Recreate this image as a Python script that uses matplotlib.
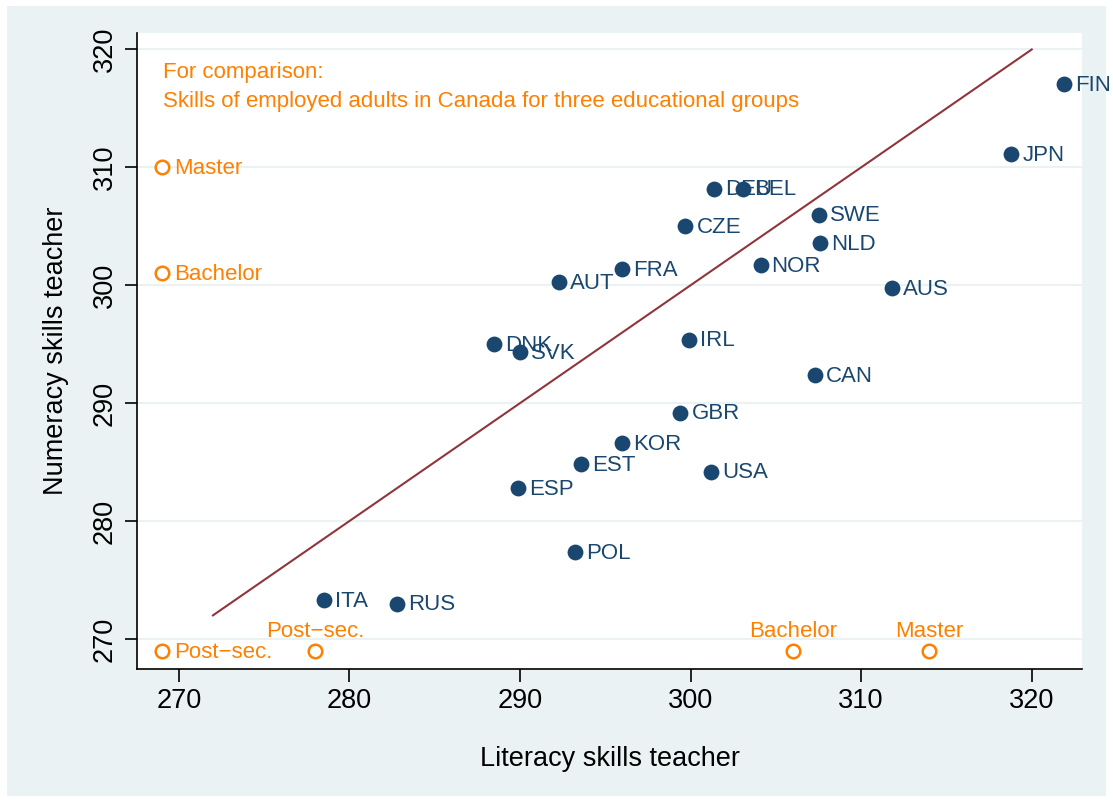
import matplotlib.pyplot as plt
from matplotlib.patches import Rectangle

plt.rcParams['font.family'] = ['Liberation Sans', 'DejaVu Sans']

# country scores (literacy, numeracy) of teachers
countries = ['FIN', 'JPN', 'DEU', 'BEL', 'SWE', 'CZE', 'NLD', 'NOR', 'FRA', 'AUT',
             'AUS', 'DNK', 'SVK', 'IRL', 'CAN', 'GBR', 'KOR', 'EST', 'USA', 'ESP',
             'POL', 'ITA', 'RUS']
literacy = [321.9, 318.8, 301.4, 303.1, 307.5, 299.7, 307.6, 304.1, 296.0, 292.3,
            311.8, 288.5, 290.0, 299.9, 307.3, 299.4, 296.0, 293.6, 301.2, 289.9,
            293.2, 278.5, 282.8]
numeracy = [317.1, 311.1, 308.2, 308.2, 306.0, 305.0, 303.6, 301.7, 301.4, 300.3,
            299.8, 295.0, 294.3, 295.4, 292.4, 289.2, 286.6, 284.8, 284.2, 282.8,
            277.4, 273.3, 273.0]

# Canadian employed adults by education
groups = ['Post\u2212sec.', 'Bachelor', 'Master']
can_literacy = [278, 306, 314]
can_numeracy = [269, 301, 310]
axis_base = 269

navy = '#1a476f'
maroon = '#90353b'
orange = '#ff8000'
bg = '#eaf2f3'

fig = plt.figure(figsize=(11.13, 8.02), dpi=100)
fig.patch.set_facecolor('white')
fig.patches.append(Rectangle((0.006, 0.008), 0.988, 0.984, transform=fig.transFigure,
                             facecolor=bg, edgecolor='none', zorder=-10))

ax = fig.add_axes([0.1231, 0.1658, 0.8491, 0.7931])
ax.set_facecolor('white')
ax.set_xlim(267.55, 322.95)
ax.set_ylim(267.45, 321.4)

for v in range(270, 321, 10):
    ax.axhline(v, color=bg, lw=1.5, zorder=0)

# 45 degree line
ax.plot([272, 320], [272, 320], color=maroon, lw=1.5, zorder=1)

ax.scatter(literacy, numeracy, s=130, color=navy, zorder=3, linewidths=0)
for c, x, y in zip(countries, literacy, numeracy):
    ax.annotate(c, (x, y), xytext=(8, -1), textcoords='offset points',
                va='center', ha='left', color=navy, fontsize=16, zorder=4)

# comparison markers on the y axis
ax.scatter([axis_base] * 3, can_numeracy, s=95, facecolors='white',
           edgecolors=orange, linewidths=1.8, zorder=3)
for g, y in zip(groups, can_numeracy):
    ax.annotate(g, (axis_base, y), xytext=(9, -1), textcoords='offset points',
                va='center', ha='left', color=orange, fontsize=16)

# comparison markers on the x axis
ax.scatter(can_literacy, [axis_base] * 3, s=95, facecolors='white',
           edgecolors=orange, linewidths=1.8, zorder=3)
for g, x in zip(groups, can_literacy):
    ax.annotate(g, (x, axis_base), xytext=(0, 6), textcoords='offset points',
                va='bottom', ha='center', color=orange, fontsize=16)

ax.text(269.1, 318.05, 'For comparison:', color=orange, fontsize=16, va='center')
ax.text(269.1, 315.6, 'Skills of employed adults in Canada for three educational groups',
        color=orange, fontsize=16, va='center')

ax.set_xticks(range(270, 321, 10))
ax.set_yticks(range(270, 321, 10))
ax.tick_params(axis='both', direction='out', length=9, width=1.2, labelsize=19.5, pad=5)
plt.setp(ax.get_yticklabels(), rotation=90, va='center')
for s in ['top', 'right']:
    ax.spines[s].set_visible(False)
for s in ['left', 'bottom']:
    ax.spines[s].set_linewidth(1.2)

ax.set_xlabel('Literacy skills teacher', fontsize=19.5, labelpad=23)
ax.set_ylabel('Numeracy skills teacher', fontsize=19.5, labelpad=16)

fig.savefig('out.png', dpi=100)
